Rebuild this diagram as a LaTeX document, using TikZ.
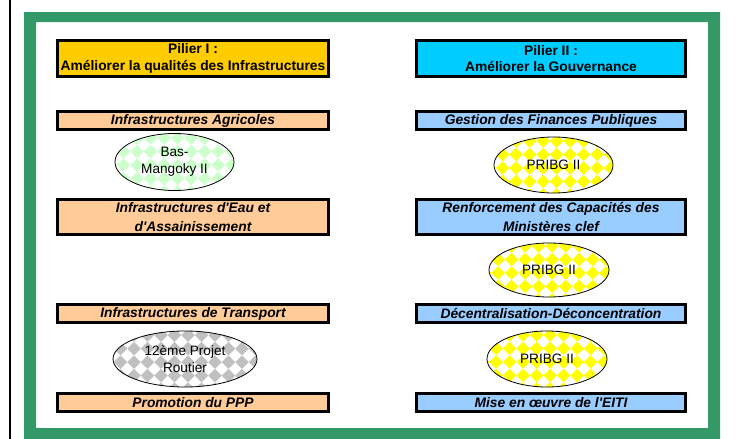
\documentclass[tikz,border=0pt]{standalone}
\usepackage{fontspec}
\setmainfont{Liberation Sans}
\usetikzlibrary{shapes.geometric,calc}
\definecolor{frameg}{RGB}{51,153,102}
\definecolor{pone}{RGB}{255,204,0}
\definecolor{ptwo}{RGB}{0,204,255}
\definecolor{peach}{RGB}{255,204,153}
\definecolor{lblue}{RGB}{153,204,255}
\definecolor{chkyel}{RGB}{255,255,0}
\definecolor{chkgrn}{RGB}{204,255,204}
\definecolor{chkgry}{RGB}{192,192,192}
\begin{document}
\begin{tikzpicture}[x=1pt,y=-1pt,
  pilbox/.style={draw=black, line width=3pt, inner sep=0pt, minimum height=36pt,
    align=center, font=\fontsize{13.8}{16.7}\selectfont\bfseries, fill=#1},
  subbox/.style={draw=black, line width=3pt, inner sep=0pt,
    align=center, font=\fontsize{13.8}{18.4}\selectfont\bfseries\itshape, fill=#1},
  lw/.style={minimum width=271pt},
  rw/.style={minimum width=269pt},
  onel/.style={minimum height=18pt},
  twol/.style={minimum height=35pt},
  proj/.style={ellipse, draw=black, line width=0.8pt, inner sep=0pt, fill=white,
    align=center, font=\fontsize{13.6}{17}\selectfont,
    path picture={
      \foreach \j in {-3,...,3}{
        \foreach \i in {-6,...,6}{
          \fill[#1] ($(path picture bounding box.center)+(\i*13.5pt+3pt,\j*13.5pt-3pt)$)
            ++(-6.75pt,0pt) -- ++(6.75pt,6.75pt) -- ++(6.75pt,-6.75pt) -- ++(-6.75pt,-6.75pt) -- cycle;
        }
      }
    }},
]
\useasboundingbox (0,0) rectangle (747,439);
% left black rule
\draw[line width=2pt] (10,0) -- (10,439);
% green frame
\fill[frameg, even odd rule] (24,12) rectangle (720,439) (36,22) rectangle (708,428);

% Pillar headers
\node[pilbox=pone, lw] (p1) at (193,58.5) {Pilier I :\\Améliorer la qualités des Infrastructures};
\node[pilbox=ptwo, rw] (p2) at (551,58.5) {Pilier II :\\Améliorer la Gouvernance};

% Left column
\node[subbox=peach, lw, onel] (la) at (193,120.5) {Infrastructures Agricoles};
\node[subbox=peach, lw, twol] (lb) at (193,217) {Infrastructures d\textquotesingle Eau et\\d\textquotesingle Assainissement};
\node[subbox=peach, lw, onel] (lc) at (193,313.5) {Infrastructures de Transport};
\node[subbox=peach, lw, onel] (ld) at (193,402.5) {Promotion du PPP};

% Right column
\node[subbox=lblue, rw, onel] (ra) at (551,120.5) {Gestion des Finances Publiques};
\node[subbox=lblue, rw, twol] (rb) at (551,217) {Renforcement des Capacités des\\Ministères clef};
\node[subbox=lblue, rw, onel] (rc) at (551,313.5) {Décentralisation-Déconcentration};
\node[subbox=lblue, rw, onel] (rd) at (551,402.5) {Mise en œuvre de l\textquotesingle EITI};

% Projects
\node[proj=chkgrn, minimum width=119pt, minimum height=57pt] (e1) at (174.5,162) {Bas-\\Mangoky II};
\node[proj=chkgry, minimum width=144pt, minimum height=56pt] (e2) at (185,359) {12ème Projet\\Routier};
\node[proj=chkyel, minimum width=119pt, minimum height=56pt] (e3) at (553.5,165) {PRIBG II};
\node[proj=chkyel, minimum width=120pt, minimum height=54pt] (e4) at (549,270) {PRIBG II};
\node[proj=chkyel, minimum width=120pt, minimum height=56pt] (e5) at (547,359) {PRIBG II};
\end{tikzpicture}
\end{document}
